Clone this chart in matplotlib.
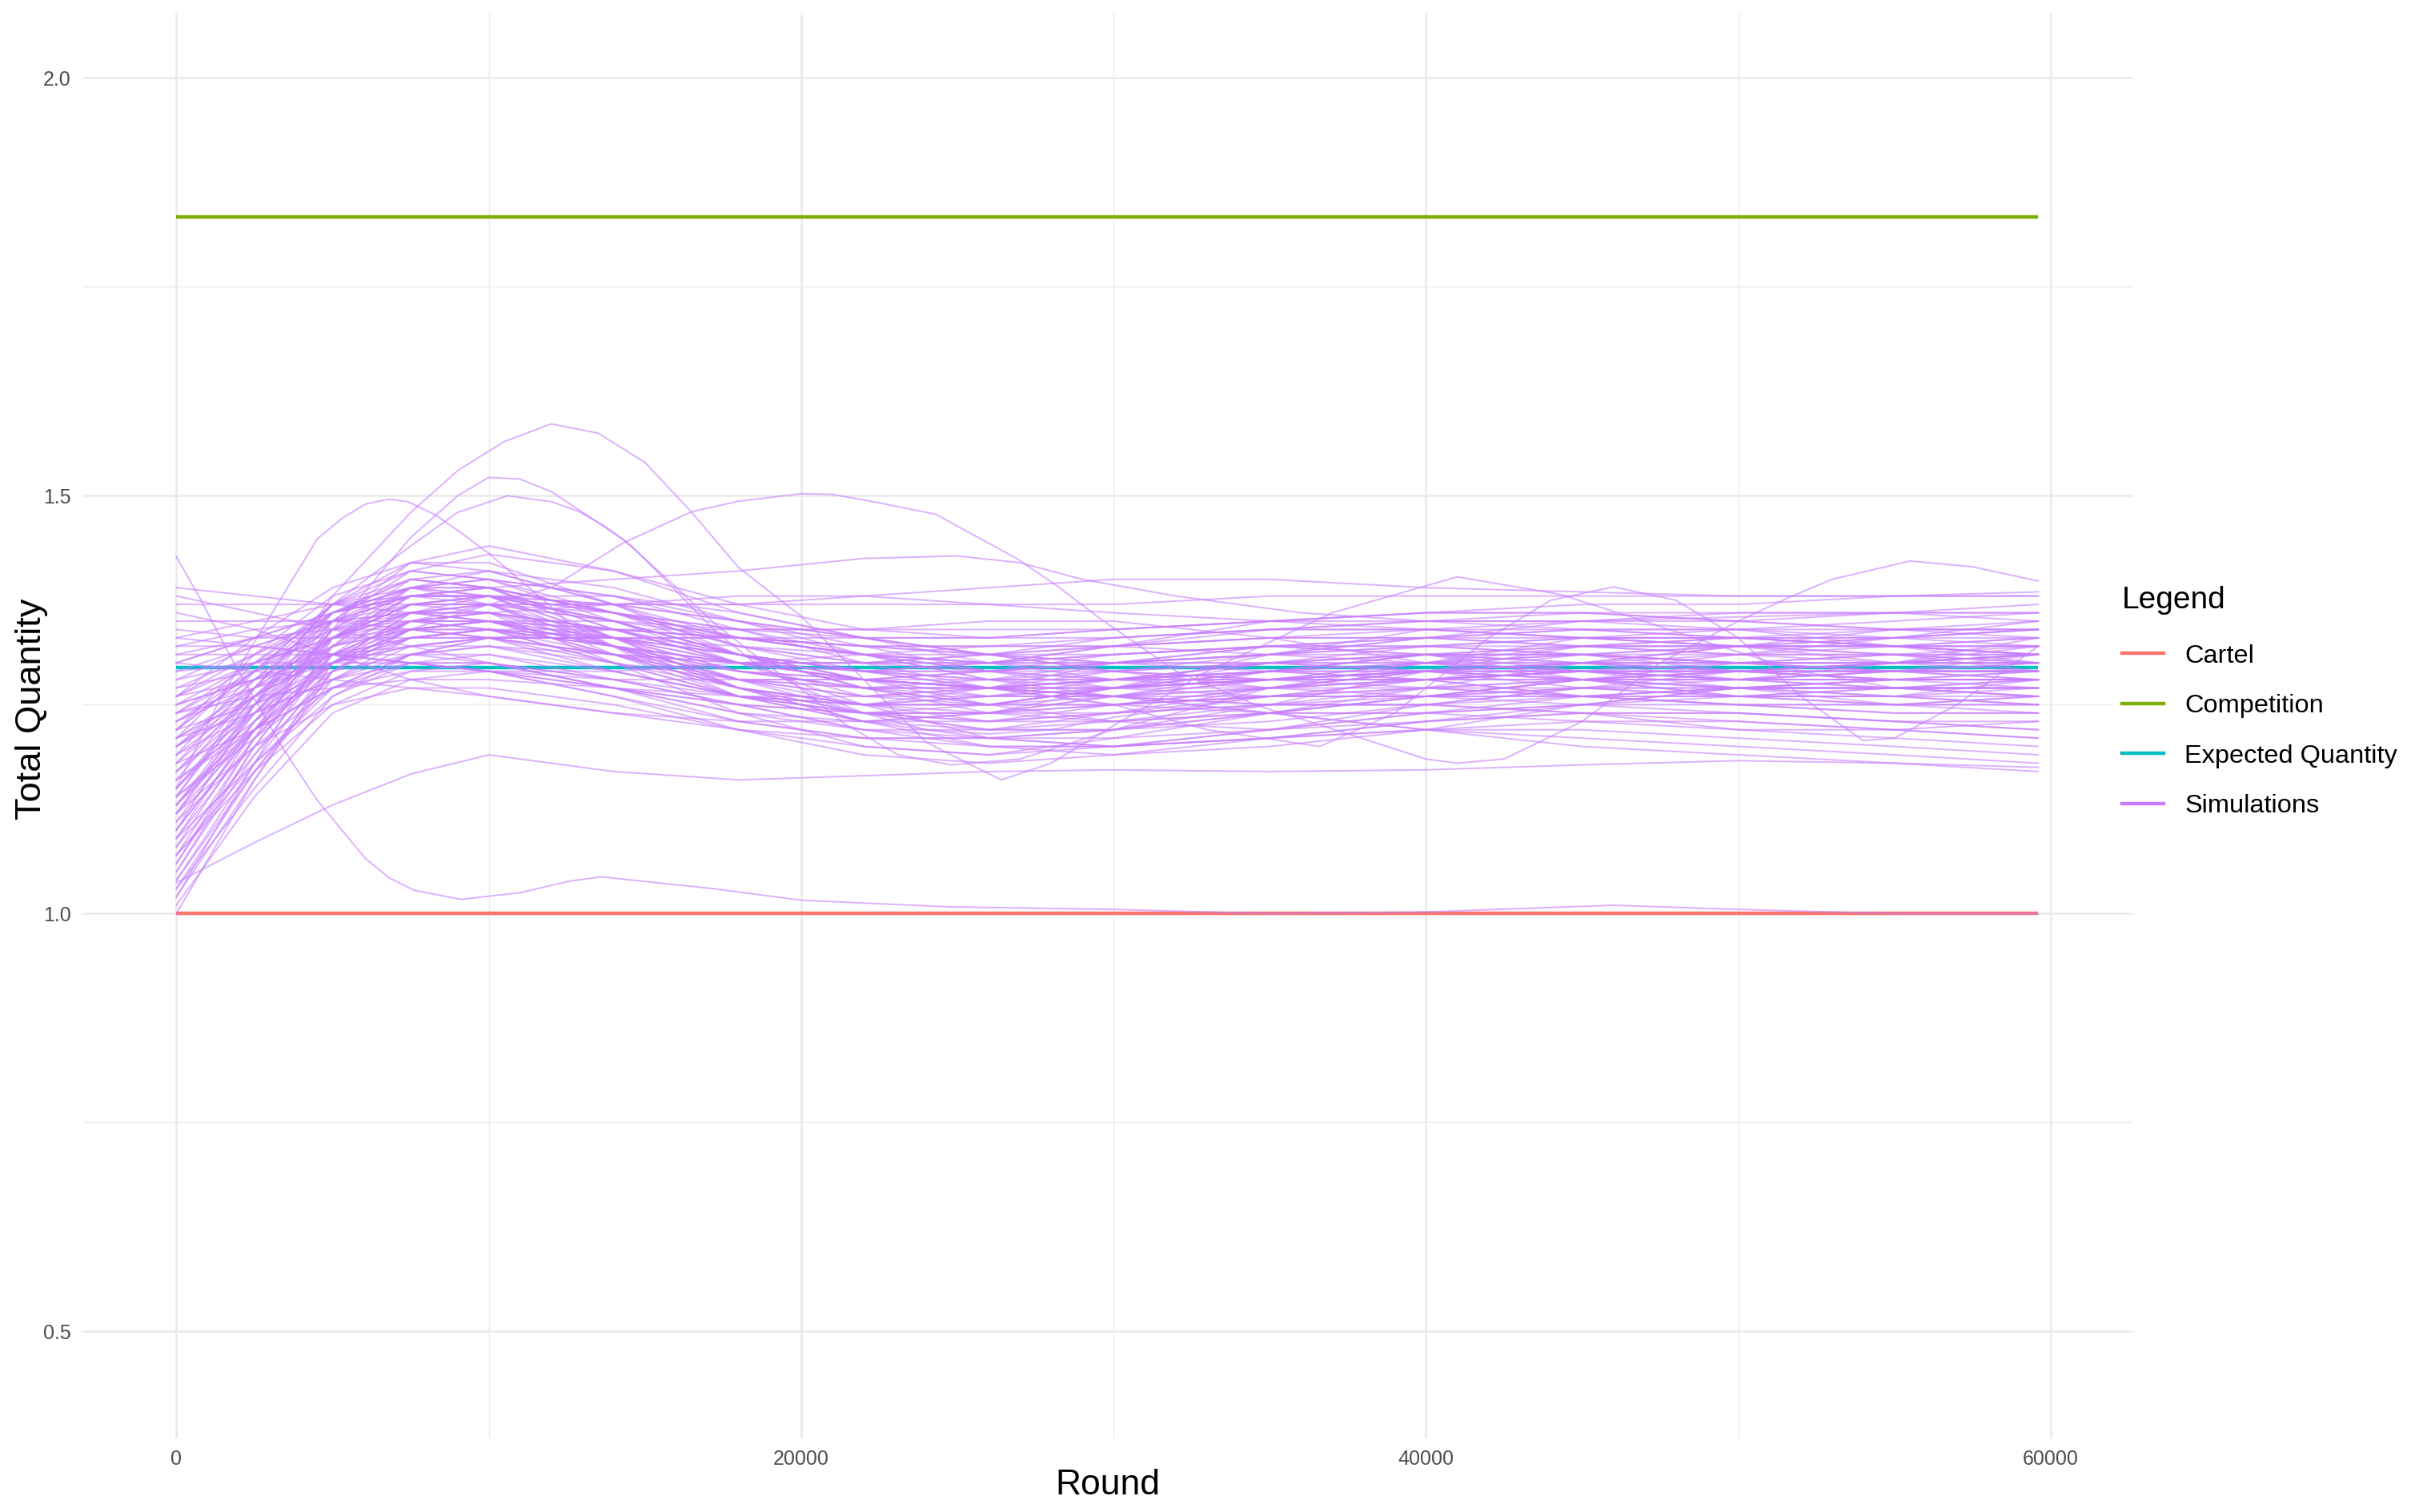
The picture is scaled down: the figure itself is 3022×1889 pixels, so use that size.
import matplotlib
matplotlib.use("Agg")
import matplotlib.pyplot as plt
from matplotlib.ticker import MultipleLocator
from matplotlib.lines import Line2D

plt.rcParams['font.family'] = ['Liberation Sans', 'DejaVu Sans']

# ---------------- data ----------------
CARTEL = 1.0
COMPETITION = 1.8333
EXPECTED = 1.294
ROUND_END = 59600

x_ticks = [0, 20000, 40000, 60000]
y_ticks = [0.5, 1.0, 1.5, 2.0]

# common sampling rounds for the bulk of the simulation curves
band_rounds = [0, 2500, 5000, 7500, 10000, 14000, 18000, 22000, 26000, 30000,
               35000, 40000, 45000, 50000, 55000, 59600]

band_values = [
    [1.00, 1.16, 1.30, 1.36, 1.37, 1.33, 1.29, 1.27, 1.27, 1.28, 1.30, 1.31, 1.30, 1.29, 1.29, 1.30],
    [1.02, 1.18, 1.33, 1.39, 1.38, 1.32, 1.26, 1.23, 1.24, 1.27, 1.30, 1.31, 1.30, 1.28, 1.27, 1.27],
    [1.05, 1.20, 1.32, 1.38, 1.39, 1.36, 1.31, 1.28, 1.26, 1.26, 1.28, 1.30, 1.33, 1.34, 1.33, 1.32],
    [1.07, 1.21, 1.31, 1.35, 1.35, 1.31, 1.27, 1.25, 1.25, 1.27, 1.29, 1.28, 1.26, 1.25, 1.25, 1.26],
    [1.09, 1.23, 1.34, 1.40, 1.41, 1.37, 1.32, 1.30, 1.30, 1.31, 1.32, 1.31, 1.29, 1.28, 1.29, 1.31],
    [1.10, 1.22, 1.31, 1.35, 1.36, 1.34, 1.30, 1.25, 1.21, 1.20, 1.22, 1.25, 1.27, 1.27, 1.26, 1.25],
    [1.12, 1.24, 1.33, 1.37, 1.37, 1.32, 1.27, 1.24, 1.23, 1.24, 1.25, 1.25, 1.24, 1.22, 1.21, 1.20],
    [1.13, 1.25, 1.35, 1.41, 1.43, 1.41, 1.37, 1.34, 1.33, 1.33, 1.34, 1.35, 1.35, 1.35, 1.36, 1.37],
    [1.14, 1.22, 1.29, 1.33, 1.34, 1.33, 1.31, 1.29, 1.28, 1.28, 1.29, 1.30, 1.31, 1.32, 1.32, 1.32],
    [1.15, 1.26, 1.34, 1.37, 1.36, 1.30, 1.24, 1.20, 1.19, 1.21, 1.24, 1.26, 1.28, 1.29, 1.29, 1.29],
    [1.16, 1.23, 1.30, 1.35, 1.37, 1.37, 1.35, 1.33, 1.31, 1.30, 1.29, 1.29, 1.30, 1.31, 1.31, 1.30],
    [1.17, 1.27, 1.36, 1.40, 1.39, 1.34, 1.30, 1.29, 1.30, 1.32, 1.33, 1.33, 1.32, 1.31, 1.31, 1.31],
    [1.18, 1.22, 1.27, 1.31, 1.33, 1.33, 1.31, 1.28, 1.25, 1.23, 1.22, 1.23, 1.25, 1.27, 1.28, 1.28],
    [1.19, 1.26, 1.32, 1.34, 1.33, 1.29, 1.26, 1.25, 1.26, 1.28, 1.29, 1.28, 1.26, 1.25, 1.25, 1.26],
    [1.20, 1.28, 1.35, 1.38, 1.38, 1.35, 1.31, 1.27, 1.24, 1.23, 1.24, 1.27, 1.30, 1.32, 1.33, 1.33],
    [1.21, 1.24, 1.28, 1.31, 1.32, 1.31, 1.30, 1.30, 1.30, 1.30, 1.31, 1.32, 1.33, 1.33, 1.33, 1.34],
    [1.22, 1.29, 1.36, 1.39, 1.39, 1.36, 1.33, 1.31, 1.30, 1.30, 1.31, 1.33, 1.35, 1.36, 1.36, 1.35],
    [1.22, 1.25, 1.29, 1.31, 1.31, 1.28, 1.25, 1.22, 1.21, 1.21, 1.22, 1.24, 1.26, 1.27, 1.27, 1.27],
    [1.23, 1.27, 1.31, 1.33, 1.34, 1.34, 1.34, 1.34, 1.34, 1.34, 1.35, 1.36, 1.37, 1.37, 1.38, 1.38],
    [1.24, 1.30, 1.36, 1.38, 1.37, 1.32, 1.28, 1.26, 1.27, 1.28, 1.30, 1.30, 1.29, 1.28, 1.28, 1.29],
    [1.24, 1.26, 1.27, 1.28, 1.28, 1.27, 1.26, 1.25, 1.25, 1.26, 1.27, 1.28, 1.29, 1.29, 1.29, 1.29],
    [1.25, 1.30, 1.34, 1.35, 1.34, 1.30, 1.26, 1.23, 1.21, 1.20, 1.21, 1.23, 1.24, 1.24, 1.23, 1.22],
    [1.26, 1.28, 1.30, 1.32, 1.33, 1.33, 1.32, 1.31, 1.30, 1.29, 1.28, 1.28, 1.28, 1.29, 1.30, 1.31],
    [1.26, 1.31, 1.36, 1.39, 1.40, 1.38, 1.35, 1.32, 1.29, 1.27, 1.26, 1.26, 1.27, 1.28, 1.28, 1.28],
    [1.27, 1.29, 1.31, 1.31, 1.30, 1.27, 1.24, 1.22, 1.22, 1.23, 1.25, 1.27, 1.28, 1.27, 1.26, 1.25],
    [1.28, 1.32, 1.35, 1.36, 1.35, 1.31, 1.28, 1.27, 1.28, 1.30, 1.32, 1.33, 1.34, 1.34, 1.35, 1.36],
    [1.29, 1.30, 1.30, 1.30, 1.29, 1.27, 1.25, 1.24, 1.24, 1.25, 1.26, 1.26, 1.26, 1.26, 1.27, 1.27],
    [1.30, 1.33, 1.36, 1.38, 1.38, 1.36, 1.33, 1.31, 1.29, 1.28, 1.29, 1.31, 1.32, 1.32, 1.31, 1.30],
    [1.31, 1.31, 1.31, 1.30, 1.29, 1.26, 1.23, 1.21, 1.20, 1.20, 1.21, 1.22, 1.22, 1.21, 1.20, 1.19],
    [1.32, 1.34, 1.35, 1.35, 1.34, 1.32, 1.30, 1.29, 1.29, 1.30, 1.31, 1.31, 1.31, 1.31, 1.32, 1.33],
    [1.33, 1.32, 1.31, 1.30, 1.29, 1.28, 1.28, 1.28, 1.29, 1.30, 1.30, 1.29, 1.28, 1.27, 1.27, 1.28],
    [1.35, 1.35, 1.35, 1.34, 1.33, 1.31, 1.30, 1.30, 1.31, 1.32, 1.34, 1.35, 1.36, 1.36, 1.36, 1.36],
    [1.36, 1.34, 1.31, 1.28, 1.26, 1.24, 1.23, 1.23, 1.24, 1.26, 1.28, 1.29, 1.29, 1.28, 1.28, 1.28],
    [1.37, 1.37, 1.37, 1.36, 1.35, 1.34, 1.33, 1.32, 1.32, 1.32, 1.33, 1.34, 1.34, 1.33, 1.32, 1.31],
    [1.38, 1.36, 1.34, 1.32, 1.30, 1.27, 1.25, 1.24, 1.24, 1.25, 1.26, 1.26, 1.25, 1.24, 1.23, 1.23],
    [1.39, 1.38, 1.37, 1.37, 1.37, 1.37, 1.37, 1.37, 1.37, 1.37, 1.38, 1.38, 1.38, 1.38, 1.38, 1.38],
    [1.11, 1.20, 1.27, 1.30, 1.30, 1.27, 1.23, 1.21, 1.21, 1.22, 1.24, 1.24, 1.23, 1.22, 1.22, 1.23],
    [1.08, 1.19, 1.29, 1.34, 1.35, 1.33, 1.30, 1.28, 1.27, 1.27, 1.27, 1.28, 1.29, 1.30, 1.30, 1.30],
    [1.04, 1.17, 1.28, 1.33, 1.34, 1.32, 1.29, 1.27, 1.26, 1.26, 1.26, 1.27, 1.28, 1.28, 1.29, 1.29],
    [1.06, 1.21, 1.35, 1.42, 1.44, 1.41, 1.36, 1.33, 1.31, 1.30, 1.31, 1.33, 1.34, 1.34, 1.34, 1.34],
    [1.03, 1.15, 1.26, 1.30, 1.31, 1.29, 1.26, 1.24, 1.23, 1.24, 1.26, 1.28, 1.29, 1.29, 1.28, 1.27],
    [1.15, 1.24, 1.32, 1.36, 1.37, 1.35, 1.33, 1.32, 1.32, 1.33, 1.34, 1.34, 1.33, 1.32, 1.32, 1.33],
    [1.20, 1.25, 1.30, 1.33, 1.34, 1.31, 1.27, 1.24, 1.22, 1.22, 1.23, 1.25, 1.27, 1.29, 1.30, 1.31],
    [1.18, 1.26, 1.33, 1.37, 1.38, 1.35, 1.31, 1.28, 1.27, 1.27, 1.28, 1.29, 1.29, 1.28, 1.27, 1.26],
    [1.12, 1.20, 1.25, 1.27, 1.27, 1.25, 1.22, 1.20, 1.19, 1.20, 1.22, 1.24, 1.25, 1.25, 1.24, 1.24],
    [1.23, 1.28, 1.33, 1.36, 1.37, 1.36, 1.34, 1.31, 1.28, 1.26, 1.25, 1.26, 1.28, 1.30, 1.31, 1.31],
    [1.25, 1.28, 1.31, 1.32, 1.32, 1.29, 1.26, 1.25, 1.26, 1.27, 1.28, 1.29, 1.30, 1.30, 1.30, 1.30],
    [1.28, 1.30, 1.33, 1.35, 1.36, 1.37, 1.38, 1.38, 1.37, 1.36, 1.35, 1.34, 1.33, 1.33, 1.33, 1.34],
    [1.21, 1.27, 1.33, 1.36, 1.36, 1.34, 1.31, 1.29, 1.28, 1.28, 1.29, 1.31, 1.32, 1.33, 1.34, 1.34],
    [1.16, 1.22, 1.27, 1.29, 1.29, 1.26, 1.22, 1.19, 1.18, 1.19, 1.21, 1.23, 1.24, 1.24, 1.23, 1.22],
    [1.13, 1.24, 1.34, 1.39, 1.40, 1.38, 1.34, 1.30, 1.27, 1.26, 1.27, 1.29, 1.31, 1.32, 1.32, 1.31],
    [1.09, 1.18, 1.26, 1.31, 1.33, 1.34, 1.33, 1.31, 1.29, 1.28, 1.28, 1.29, 1.30, 1.30, 1.30, 1.30],
    [1.19, 1.24, 1.28, 1.30, 1.30, 1.28, 1.26, 1.26, 1.27, 1.28, 1.28, 1.27, 1.26, 1.26, 1.27, 1.28],
    [1.24, 1.29, 1.34, 1.36, 1.36, 1.33, 1.29, 1.27, 1.27, 1.29, 1.31, 1.32, 1.31, 1.30, 1.29, 1.29],
    [1.30, 1.29, 1.28, 1.27, 1.26, 1.24, 1.22, 1.21, 1.21, 1.22, 1.24, 1.26, 1.27, 1.27, 1.27, 1.27],
    [1.34, 1.33, 1.33, 1.33, 1.33, 1.33, 1.33, 1.33, 1.33, 1.34, 1.35, 1.36, 1.36, 1.35, 1.34, 1.33],
    [1.14, 1.21, 1.28, 1.32, 1.33, 1.31, 1.28, 1.27, 1.27, 1.28, 1.30, 1.31, 1.31, 1.30, 1.29, 1.29],
    [1.07, 1.18, 1.27, 1.31, 1.32, 1.30, 1.28, 1.28, 1.29, 1.31, 1.32, 1.32, 1.32, 1.32, 1.32, 1.32],
    [1.01, 1.14, 1.24, 1.28, 1.29, 1.27, 1.24, 1.23, 1.23, 1.25, 1.27, 1.27, 1.26, 1.25, 1.24, 1.24],
    [1.17, 1.25, 1.32, 1.35, 1.35, 1.32, 1.29, 1.28, 1.28, 1.29, 1.30, 1.30, 1.30, 1.29, 1.29, 1.29],
    [1.26, 1.30, 1.33, 1.34, 1.34, 1.32, 1.30, 1.28, 1.27, 1.26, 1.24, 1.22, 1.20, 1.19, 1.18, 1.17],
    [1.21, 1.26, 1.31, 1.33, 1.33, 1.31, 1.29, 1.28, 1.27, 1.26, 1.24, 1.22, 1.21, 1.20, 1.19, 1.18],
    [1.037, 1.085, 1.13, 1.167, 1.19, 1.17, 1.16, 1.165, 1.17, 1.172, 1.17, 1.172, 1.178, 1.183, 1.18, 1.175],
    [1.33, 1.35, 1.37, 1.38, 1.38, 1.37, 1.37, 1.38, 1.39, 1.40, 1.40, 1.39, 1.385, 1.38, 1.38, 1.385],
    [1.05, 1.19, 1.31, 1.37, 1.38, 1.35, 1.30, 1.26, 1.25, 1.27, 1.31, 1.34, 1.35, 1.34, 1.32, 1.30],
    [1.10, 1.25, 1.36, 1.40, 1.39, 1.33, 1.27, 1.25, 1.27, 1.30, 1.32, 1.31, 1.28, 1.26, 1.26, 1.28],
    [1.14, 1.26, 1.35, 1.39, 1.39, 1.36, 1.34, 1.34, 1.35, 1.35, 1.33, 1.30, 1.28, 1.28, 1.30, 1.33],
    [1.02, 1.16, 1.29, 1.35, 1.36, 1.34, 1.31, 1.29, 1.29, 1.30, 1.30, 1.29, 1.27, 1.26, 1.26, 1.27],
    [1.18, 1.28, 1.36, 1.39, 1.38, 1.33, 1.28, 1.24, 1.22, 1.22, 1.25, 1.29, 1.32, 1.33, 1.32, 1.31],
    [1.08, 1.22, 1.33, 1.38, 1.38, 1.33, 1.27, 1.23, 1.22, 1.24, 1.27, 1.29, 1.29, 1.27, 1.25, 1.24],
    [1.22, 1.31, 1.38, 1.41, 1.40, 1.35, 1.31, 1.29, 1.30, 1.32, 1.35, 1.36, 1.36, 1.35, 1.34, 1.34],
    [1.27, 1.31, 1.35, 1.37, 1.37, 1.35, 1.31, 1.27, 1.25, 1.25, 1.27, 1.30, 1.32, 1.32, 1.31, 1.29],
    [1.12, 1.22, 1.30, 1.34, 1.35, 1.34, 1.33, 1.32, 1.31, 1.29, 1.27, 1.26, 1.26, 1.27, 1.28, 1.29],
    [1.04, 1.18, 1.30, 1.36, 1.38, 1.37, 1.35, 1.33, 1.31, 1.29, 1.28, 1.28, 1.29, 1.31, 1.33, 1.34],
    [1.16, 1.27, 1.37, 1.42, 1.42, 1.37, 1.31, 1.27, 1.25, 1.25, 1.26, 1.27, 1.27, 1.26, 1.25, 1.25],
    [1.20, 1.27, 1.33, 1.36, 1.36, 1.32, 1.27, 1.23, 1.20, 1.19, 1.20, 1.22, 1.25, 1.27, 1.28, 1.28],
    [1.25, 1.28, 1.32, 1.34, 1.35, 1.35, 1.34, 1.33, 1.33, 1.34, 1.35, 1.35, 1.34, 1.33, 1.32, 1.31],
    [1.29, 1.32, 1.35, 1.36, 1.35, 1.32, 1.30, 1.30, 1.31, 1.33, 1.34, 1.34, 1.33, 1.32, 1.33, 1.35],
    [1.31, 1.33, 1.34, 1.34, 1.33, 1.30, 1.27, 1.25, 1.24, 1.24, 1.25, 1.25, 1.24, 1.23, 1.22, 1.21],
    [1.06, 1.20, 1.32, 1.39, 1.41, 1.39, 1.35, 1.31, 1.28, 1.27, 1.28, 1.30, 1.31, 1.30, 1.29, 1.28],
    [1.09, 1.21, 1.30, 1.34, 1.34, 1.30, 1.26, 1.24, 1.24, 1.26, 1.29, 1.31, 1.31, 1.30, 1.30, 1.31],
    [1.15, 1.25, 1.33, 1.37, 1.38, 1.38, 1.36, 1.33, 1.30, 1.28, 1.27, 1.28, 1.30, 1.32, 1.34, 1.35],
    [1.19, 1.29, 1.37, 1.40, 1.39, 1.34, 1.30, 1.28, 1.27, 1.26, 1.25, 1.25, 1.26, 1.27, 1.27, 1.26],
    [1.23, 1.29, 1.35, 1.38, 1.38, 1.36, 1.33, 1.31, 1.30, 1.31, 1.32, 1.32, 1.31, 1.29, 1.28, 1.28],
    [1.13, 1.23, 1.31, 1.35, 1.35, 1.32, 1.28, 1.26, 1.26, 1.27, 1.28, 1.28, 1.28, 1.28, 1.29, 1.30],
    [1.03, 1.17, 1.29, 1.34, 1.35, 1.32, 1.28, 1.25, 1.23, 1.23, 1.24, 1.26, 1.28, 1.29, 1.29, 1.28],
    [1.17, 1.24, 1.30, 1.33, 1.34, 1.33, 1.31, 1.29, 1.27, 1.25, 1.24, 1.24, 1.25, 1.26, 1.26, 1.26],
    [1.26, 1.33, 1.39, 1.42, 1.41, 1.37, 1.33, 1.31, 1.31, 1.32, 1.33, 1.33, 1.32, 1.31, 1.30, 1.30],
    [1.32, 1.32, 1.31, 1.30, 1.29, 1.29, 1.30, 1.31, 1.32, 1.32, 1.31, 1.30, 1.29, 1.29, 1.30, 1.32],
    [1.11, 1.23, 1.33, 1.38, 1.39, 1.36, 1.32, 1.30, 1.29, 1.29, 1.30, 1.32, 1.33, 1.33, 1.32, 1.32],
    [1.07, 1.17, 1.25, 1.29, 1.30, 1.28, 1.25, 1.22, 1.20, 1.20, 1.21, 1.22, 1.23, 1.23, 1.22, 1.21],
    [1.21, 1.30, 1.37, 1.39, 1.37, 1.31, 1.26, 1.24, 1.25, 1.27, 1.29, 1.29, 1.28, 1.27, 1.27, 1.27],
    [1.24, 1.27, 1.30, 1.32, 1.33, 1.33, 1.33, 1.32, 1.31, 1.31, 1.32, 1.33, 1.33, 1.32, 1.30, 1.29],
    [1.14, 1.27, 1.37, 1.41, 1.40, 1.36, 1.32, 1.29, 1.27, 1.27, 1.28, 1.29, 1.30, 1.30, 1.31, 1.32],
]

# distinctive simulation paths, each with its own sampled rounds
sim_big_arch_rounds = [0, 2500, 5000, 7500, 9000, 10500, 12000, 13500, 15000, 16500, 18000, 20000,
                       22000, 24000, 26400, 28000, 30000, 33000, 37000, 41000, 44300, 46900,
                       49400, 52000, 55000, 59600]
sim_big_arch_values = [1.12, 1.25, 1.38, 1.48, 1.53, 1.565, 1.586, 1.575, 1.54, 1.48, 1.414, 1.356,
                       1.28, 1.205, 1.16, 1.18, 1.225, 1.29, 1.36, 1.403, 1.382, 1.351,
                       1.32, 1.29, 1.27, 1.26]

sim_mid_peak_rounds = [0, 2500, 5000, 7500, 10000, 12000, 14300, 16500, 18000, 20000, 21000, 22300,
                       24300, 26900, 28200, 29500, 32000, 34600, 37100, 40000, 41000, 42500,
                       45000, 47500, 50000, 51600, 53000, 55500, 57500, 59600]
sim_mid_peak_values = [1.20, 1.26, 1.31, 1.34, 1.37, 1.39, 1.4435, 1.481, 1.4935, 1.5025, 1.5017, 1.493,
                       1.478, 1.425, 1.392, 1.355, 1.29, 1.249, 1.22, 1.185, 1.18, 1.185,
                       1.23, 1.30, 1.35, 1.378, 1.40, 1.422, 1.415, 1.398]

sim_low_rounds = [0, 760, 1870, 2640, 3400, 4500, 6050, 6800, 7600, 9100, 11000, 12550, 13600,
                  17150, 20000, 24800, 30000, 35000, 40000, 46000, 50000, 55000, 59600]
sim_low_values = [1.427, 1.377, 1.298, 1.248, 1.1985, 1.136, 1.066, 1.043, 1.028, 1.017, 1.025, 1.0386, 1.044,
                  1.030, 1.016, 1.008, 1.005, 1.0, 1.002, 1.01, 1.005, 1.0, 1.0]

sim_early_peak_rounds = [0, 1440, 3150, 4500, 5300, 6050, 6800, 7400, 8300, 9100, 10000, 11700, 12550,
                         15000, 18000, 22000, 26000, 30000, 35000, 40000, 45000, 50000, 55000, 59600]
sim_early_peak_values = [1.15, 1.26, 1.365, 1.448, 1.473, 1.49, 1.496, 1.493, 1.477, 1.456, 1.431,
                         1.377, 1.348, 1.30, 1.27, 1.25, 1.25, 1.27, 1.29, 1.30, 1.30, 1.29, 1.28, 1.28]

sim_peak_a_rounds = [0, 2500, 5000, 7500, 9000, 10000, 11000, 12000, 14300, 15900, 17200, 18900,
                     20000, 21400, 23100, 24800, 27000, 30000, 35000, 40000, 45000, 50000, 55000, 59600]
sim_peak_a_values = [1.10, 1.22, 1.34, 1.45, 1.50, 1.522, 1.52, 1.505, 1.448, 1.394, 1.348, 1.298,
                     1.269, 1.227, 1.19, 1.178, 1.185, 1.22, 1.27, 1.29, 1.28, 1.26, 1.25, 1.25]

sim_peak_b_rounds = [0, 2500, 5000, 7500, 9000, 10600, 12000, 12900, 13700, 14600, 15900, 17200,
                     18500, 20000, 22000, 24000, 26000, 28000, 30000, 35000, 40000, 45000, 50000, 55000, 59600]
sim_peak_b_values = [1.22, 1.29, 1.37, 1.44, 1.48, 1.50, 1.493, 1.481, 1.464, 1.439, 1.39, 1.34,
                     1.30, 1.27, 1.24, 1.22, 1.215, 1.22, 1.235, 1.26, 1.28, 1.29, 1.29, 1.30, 1.31]

sim_late_wave_rounds = [0, 2500, 5000, 7500, 10000, 14000, 18000, 22000, 26000, 30000, 33000, 36600,
                        39000, 42000, 44000, 46000, 48000, 50000, 52000, 54000, 55000, 57000, 59600]
sim_late_wave_values = [1.13, 1.22, 1.30, 1.34, 1.35, 1.33, 1.30, 1.28, 1.27, 1.25, 1.22, 1.20,
                        1.24, 1.33, 1.375, 1.391, 1.375, 1.33, 1.26, 1.207, 1.21, 1.25, 1.32]

sim_high_plateau_rounds = [0, 2500, 5000, 7500, 10000, 14000, 18000, 22000, 25000, 27000, 29000, 32000,
                           36000, 40000, 45000, 50000, 55000, 59600]
sim_high_plateau_values = [1.30, 1.33, 1.36, 1.38, 1.39, 1.40, 1.41, 1.425, 1.428, 1.42, 1.40, 1.38,
                           1.36, 1.35, 1.35, 1.355, 1.36, 1.36]

special_sims = [
    (sim_big_arch_rounds, sim_big_arch_values),
    (sim_mid_peak_rounds, sim_mid_peak_values),
    (sim_low_rounds, sim_low_values),
    (sim_early_peak_rounds, sim_early_peak_values),
    (sim_peak_a_rounds, sim_peak_a_values),
    (sim_peak_b_rounds, sim_peak_b_values),
    (sim_late_wave_rounds, sim_late_wave_values),
    (sim_high_plateau_rounds, sim_high_plateau_values),
]

legend_labels = ["Cartel", "Competition", "Expected Quantity", "Simulations"]
colors = {"Cartel": "#F8766D", "Competition": "#7CAE00",
          "Expected Quantity": "#00BFC4", "Simulations": "#C77CFF"}

# ---------------- figure ----------------
W, H, DPI = 3022, 1889, 200
fig = plt.figure(figsize=(W / DPI, H / DPI), dpi=DPI)
ax = fig.add_axes([104 / W, 1 - 1797 / H, (2664 - 104) / W, (1797 - 16) / H])

ref_lw = 1.6
for name, val in [("Cartel", CARTEL), ("Competition", COMPETITION),
                  ("Expected Quantity", EXPECTED)]:
    ax.plot([0, ROUND_END], [val, val], color=colors[name], lw=ref_lw, zorder=2,
            solid_capstyle='butt')

sim_kw = dict(color=colors["Simulations"], lw=0.7, alpha=0.6, zorder=3)
for row in band_values:
    ax.plot(band_rounds, row, **sim_kw)
for rr, vv in special_sims:
    ax.plot(rr, vv, **sim_kw)

ax.set_xlim(-2982, 62617)
ax.set_ylim(0.372, 2.078)
ax.set_xticks(x_ticks)
ax.set_xticklabels([str(t) for t in x_ticks])
ax.set_yticks(y_ticks)
ax.set_yticklabels([f"{t:.1f}" for t in y_ticks])
ax.xaxis.set_minor_locator(MultipleLocator(10000))
ax.yaxis.set_minor_locator(MultipleLocator(0.25))

for s in ax.spines.values():
    s.set_visible(False)
ax.set_facecolor("white")
ax.grid(which='major', color='#EBEBEB', lw=1.0, zorder=0)
ax.grid(which='minor', color='#EBEBEB', lw=0.5, zorder=0)
ax.set_axisbelow(True)
ax.tick_params(which='both', length=0)
ax.tick_params(axis='y', labelsize=9, labelcolor='#4D4D4D', pad=5.5)
ax.tick_params(axis='x', labelsize=9, labelcolor='#4D4D4D', pad=5)

ax.set_xlabel("Round", fontsize=16, labelpad=0)
ax.set_ylabel("Total Quantity", fontsize=16.3)
ax.yaxis.set_label_coords((60 - 104) / (2664 - 104), (1797 - 886) / (1797 - 16))

handles = [Line2D([0], [0], color=colors[l], lw=1.6) for l in legend_labels]
leg = fig.legend(handles, legend_labels, title="Legend", loc='upper left',
                 bbox_to_anchor=(2641 / W, 1 - 722 / H), frameon=True,
                 facecolor='white', edgecolor='none', framealpha=1.0, fancybox=False,
                 fontsize=11.7, title_fontsize=14, handlelength=1.6,
                 handletextpad=0.8, labelspacing=1.0, borderpad=0.31, borderaxespad=0,
                 alignment='left')
# slightly larger gap between the title and the first entry
leg._legend_box.sep = leg._legend_box.sep + 1.5

fig.savefig("out.png", dpi=DPI, facecolor="white")
